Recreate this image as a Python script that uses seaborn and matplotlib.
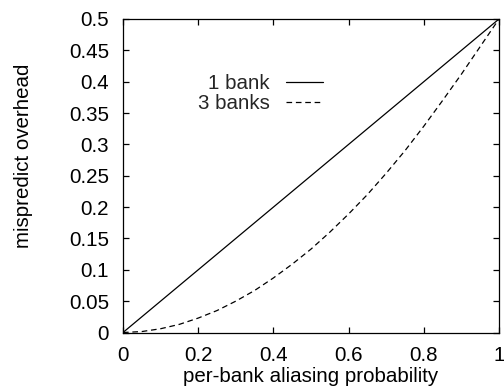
import matplotlib
matplotlib.use("Agg")
import matplotlib.pyplot as plt
import seaborn as sns
import pandas as pd

prob = [0.0, 0.05, 0.1, 0.15, 0.2, 0.25, 0.3, 0.35, 0.4, 0.45, 0.5,
        0.55, 0.6, 0.65, 0.7, 0.75, 0.8, 0.85, 0.9, 0.95, 1.0]
one_bank = [0.0, 0.025, 0.05, 0.075, 0.1, 0.125, 0.15, 0.175, 0.2, 0.225, 0.25,
            0.275, 0.3, 0.325, 0.35, 0.375, 0.4, 0.425, 0.45, 0.475, 0.5]
three_banks = [0.0, 0.0015, 0.006, 0.013, 0.023, 0.035, 0.05, 0.067, 0.087, 0.109, 0.133,
               0.16, 0.189, 0.22, 0.254, 0.29, 0.329, 0.37, 0.412, 0.456, 0.5]
xticks = [0, 0.2, 0.4, 0.6, 0.8, 1]
xtick_labels = ["0", "0.2", "0.4", "0.6", "0.8", "1"]
yticks = [0, 0.05, 0.1, 0.15, 0.2, 0.25, 0.3, 0.35, 0.4, 0.45, 0.5]
ytick_labels = ["0", "0.05", "0.1", "0.15", "0.2", "0.25", "0.3", "0.35", "0.4", "0.45", "0.5"]

sns.set_theme(style="ticks")
plt.rcParams["font.family"] = ["Liberation Sans", "DejaVu Sans"]
FS = 14.8

df1 = pd.DataFrame({"p": prob, "v": one_bank})
df3 = pd.DataFrame({"p": prob, "v": three_banks})

fig = plt.figure(figsize=(5.04, 3.86), dpi=100)
ax = fig.add_axes([123 / 504, 1 - 332.5 / 386, 376 / 504, 313.5 / 386])

sns.lineplot(data=df1, x="p", y="v", ax=ax, color="black", lw=0.9, label="1 bank")
sns.lineplot(data=df3, x="p", y="v", ax=ax, color="black", lw=0.9, label="3 banks")
ax.lines[1].set_dashes((4.5, 3.0))

ax.set_xlim(0, 1)
ax.set_ylim(0, 0.5)
ax.set_xticks(xticks)
ax.set_xticklabels(xtick_labels)
ax.set_yticks(yticks)
ax.set_yticklabels(ytick_labels)
ax.tick_params(direction="in", length=4.3, width=0.9, top=True, right=True,
               labelsize=FS, colors="black", pad=10)
for s in ax.spines.values():
    s.set_visible(True)
    s.set_linewidth(0.9)
    s.set_color("black")

ax.set_xlabel("per-bank aliasing probability", fontsize=FS, labelpad=1, color="black")
ax.set_ylabel("mispredict overhead", fontsize=FS, color="black")
ax.yaxis.set_label_coords(-0.239, 0.563)

leg = ax.legend(loc="upper right", bbox_to_anchor=(0.533, 0.825), frameon=False,
                markerfirst=False, fontsize=FS, handlelength=1.8, handletextpad=0.8,
                labelspacing=0.05, borderpad=0, borderaxespad=0)
leg.get_lines()[1].set_dashes((4.5, 3.0))

fig.savefig("out.png", dpi=100)
